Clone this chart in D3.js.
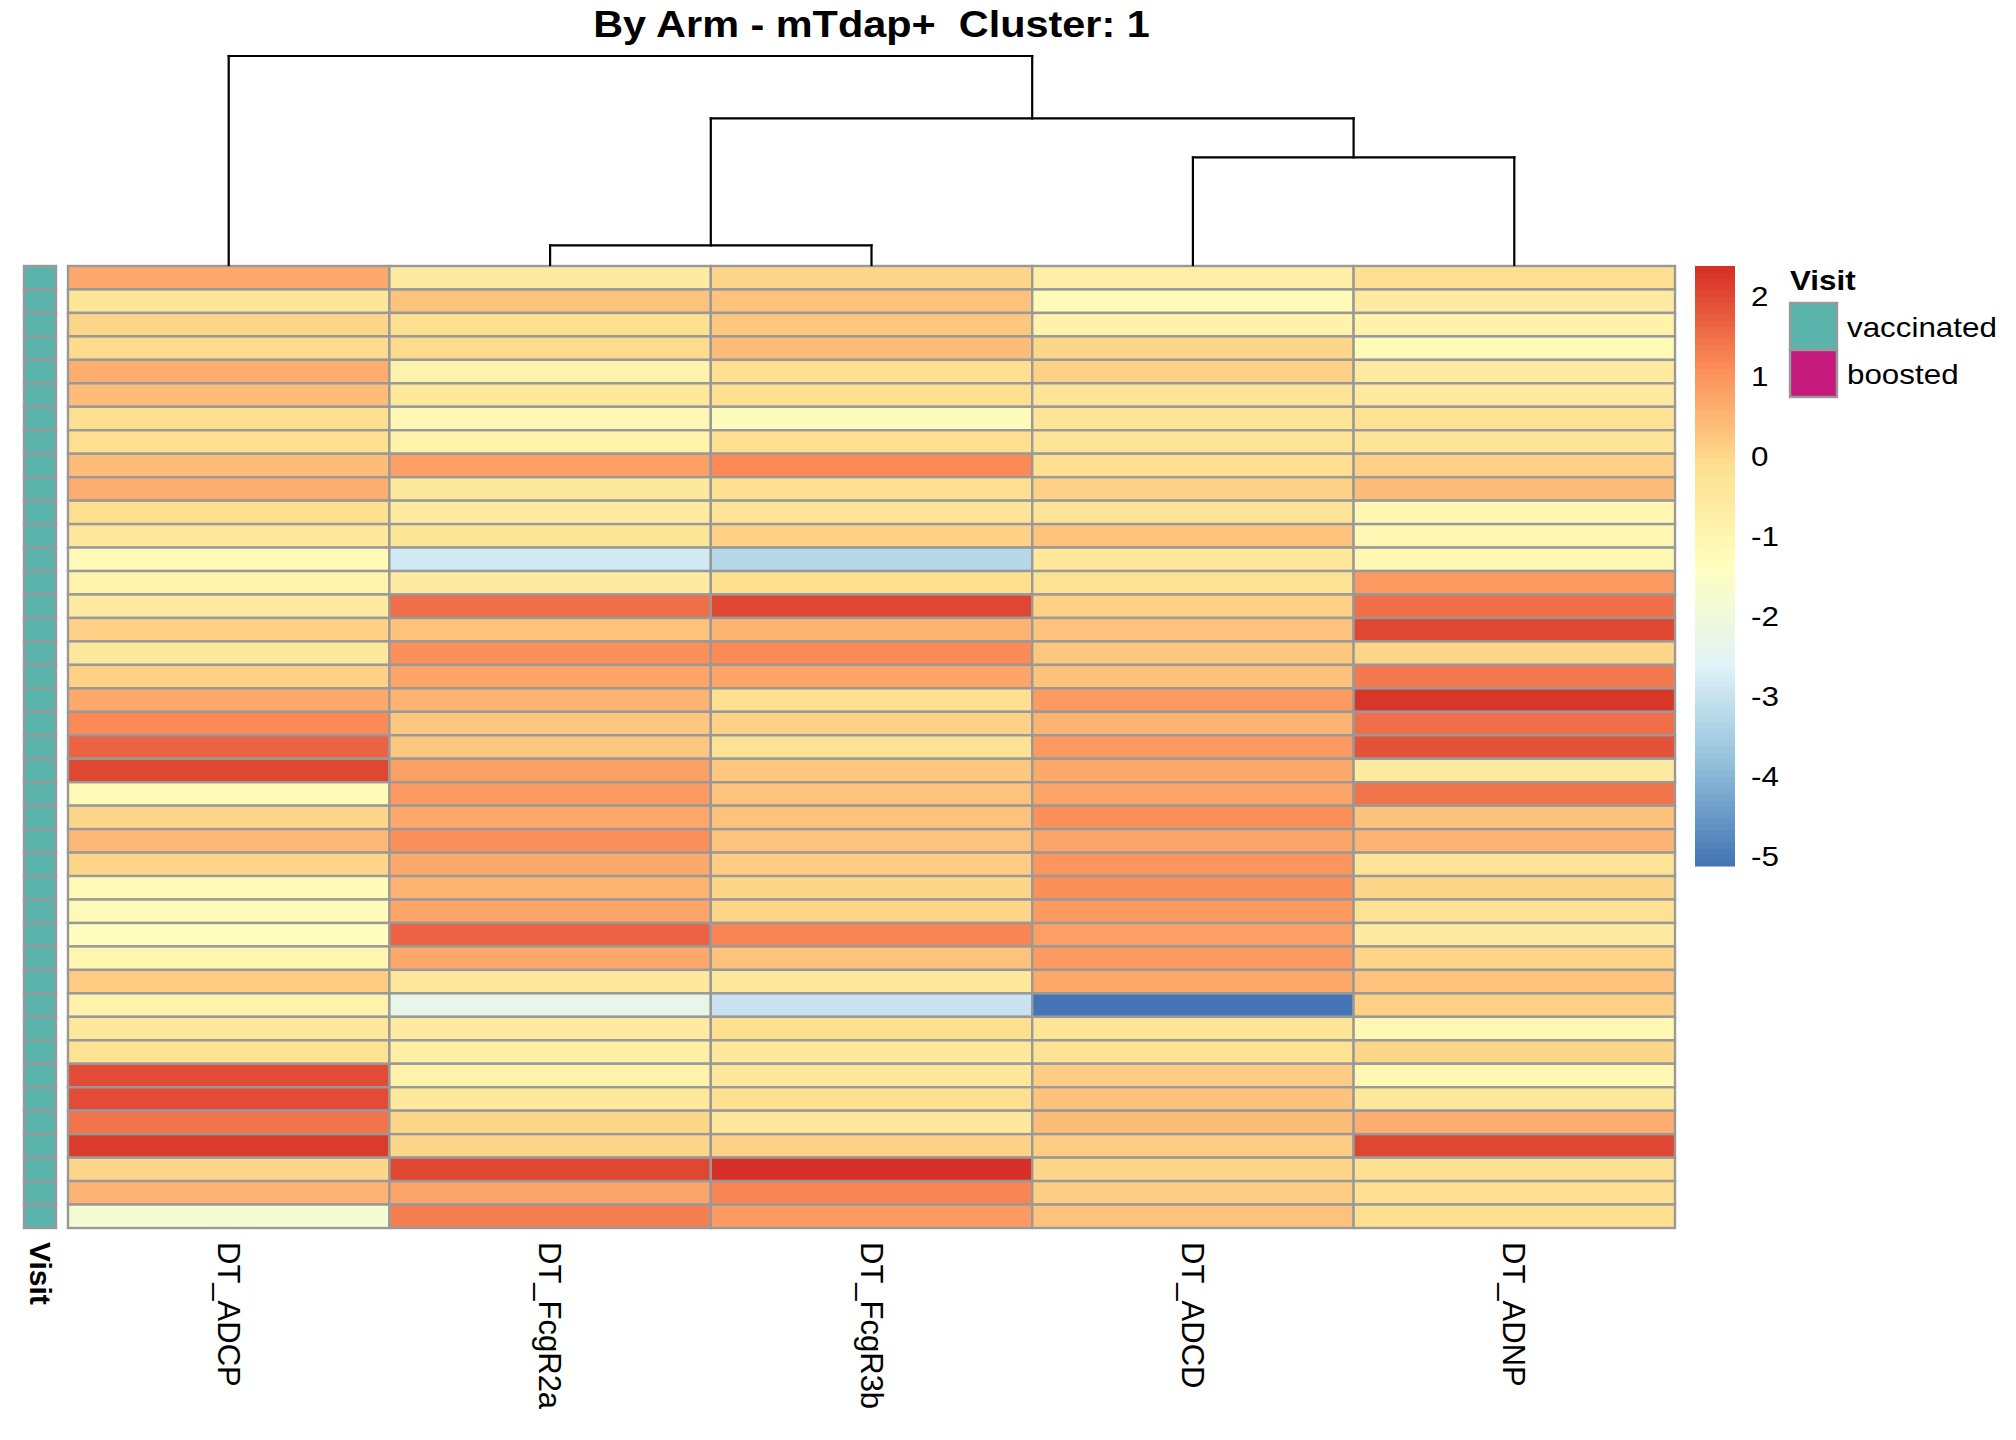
<!DOCTYPE html>
<html>
<head>
<meta charset="utf-8">
<script src="https://cdn.jsdelivr.net/npm/d3@7"></script>
<style>
  body { margin: 0; background: #fff; }
  text { font-family: "Liberation Sans", Arial, sans-serif; fill: #000; }
</style>
</head>
<body>
<div class="heatmap"></div>
<script>

// columns in dendrogram order
var columns = ["DT_ADCP", "DT_FcgR2a", "DT_FcgR3b", "DT_ADCD", "DT_ADNP"];

// one array per column, 41 samples top to bottom
var adcp = [0.70, -0.35, -0.02, -0.05, 0.60, 0.40, -0.10, -0.10, 0.40, 0.60,
            -0.10, -0.40, -1.15, -0.85, -0.55, 0.10, -0.45, 0.10, 0.72, 1.15,
            1.65, 2.02, -1.15, 0.00, 0.45, 0.00, -1.15, -1.15, -1.37, -0.95,
            0.20, -0.85, -0.45, -0.20, 2.00, 2.00, 1.45, 2.22, 0.00, 0.55, -1.80];
var fcgr2a = [-0.60, 0.35, -0.10, -0.05, -0.85, -0.40, -1.10, -0.90, 0.85, -0.45,
              -0.55, -0.35, -2.80, -0.55, 1.55, 0.30, 1.05, 0.80, 0.55, 0.22,
              0.22, 0.85, 0.92, 0.70, 1.03, 0.70, 0.55, 0.80, 1.68, 0.70,
              -0.40, -2.30, -0.55, -0.75, -0.85, -0.45, 0.00, 0.00, 2.02, 0.80, 1.30];
var fcgr3b = [0.00, 0.35, 0.25, 0.40, -0.10, -0.10, -1.25, -0.10, 1.13, -0.10,
              -0.25, 0.10, -3.30, -0.10, 2.05, 0.55, 1.12, 0.80, -0.10, 0.10,
              -0.20, 0.22, 0.28, 0.28, 0.35, 0.13, 0.00, 0.00, 1.20, 0.28,
              -0.40, -3.00, -0.15, -0.40, -0.40, -0.10, -0.40, 0.10, 2.38, 1.18, 0.95];
var adcd = [-0.75, -1.20, -0.90, 0.00, 0.10, -0.25, -0.25, -0.25, -0.15, 0.10,
            -0.30, 0.30, -0.45, -0.20, 0.10, 0.30, 0.22, 0.28, 0.95, 0.55,
            0.95, 0.68, 0.80, 1.03, 0.80, 0.97, 1.03, 0.92, 0.85, 0.95,
            0.70, -5.12, -0.35, -0.20, 0.20, 0.35, 0.42, 0.20, 0.00, 0.20, 0.35];
var adnp = [-0.10, -0.55, -0.85, -1.20, -0.60, -0.60, -0.20, -0.25, 0.10, 0.40,
            -1.00, -1.10, -1.10, 0.95, 1.55, 2.05, 0.00, 1.33, 2.30, 1.55,
            1.90, -0.55, 1.45, 0.35, 0.55, -0.25, 0.00, -0.20, -0.55, 0.00,
            0.35, 0.10, -1.10, 0.00, -1.00, -0.40, 0.63, 2.02, -0.12, -0.12, -0.12];

var visit = d3.range(41).map(() => "vaccinated");
var visitLevels = ["vaccinated", "boosted"];
var visitColors = ["#5ab4ac", "#c51b7d"];

// column clustering, hclust style: negative = leaf index (1-based), positive = earlier merge
var merges = [[-2, -3], [-4, -5], [1, 2], [-1, 3]];
var mergeHeights = [0.94, 5.14, 7.0, 9.98];

var legendTicks = [2, 1, 0, -1, -2, -3, -4, -5];
var title = "By Arm - mTdap+  Cluster: 1";

var anchors = ["#4575B4", "#91BFDB", "#E0F3F8", "#FFFFBF", "#FEE090", "#FC8D59", "#D73027"];

var width = 2016, height = 1440;
var hmLeft = 68, hmRight = 1675, hmTop = 266, hmBottom = 1228;
var sx = 1.12; // the reference text is drawn a bit wide

var series = [adcp, fcgr2a, fcgr3b, adcd, adnp];
var cells = [];
series.forEach((s, j) => s.forEach((v, i) => cells.push({row: i, col: columns[j], value: v})));

var all = cells.map(d => d.value);
var ext = d3.extent(all);
var palette = d3.quantize(d3.piecewise(d3.interpolateRgb, anchors), 100);
var color = d3.scaleQuantize().domain(ext).range(palette);

var x = d3.scaleBand().domain(columns).range([hmLeft, hmRight]);
var y = d3.scaleBand().domain(d3.range(visit.length)).range([hmTop, hmBottom]);

var svg = d3.select(".heatmap").append("svg")
    .attr("width", width)
    .attr("height", height)
    .attr("viewBox", [0, 0, width, height]);

// title
svg.append("text")
    .attr("transform", `translate(${(hmLeft + hmRight) / 2},37) scale(${sx},1)`)
    .attr("text-anchor", "middle")
    .attr("font-size", 37)
    .attr("font-weight", "bold")
    .style("white-space", "pre")
    .text(title);

// heatmap cells
svg.append("g").selectAll("rect")
    .data(cells)
    .join("rect")
    .attr("x", d => x(d.col))
    .attr("y", d => y(d.row))
    .attr("width", x.bandwidth())
    .attr("height", y.bandwidth())
    .attr("fill", d => color(d.value))
    .attr("stroke", "#999999")
    .attr("stroke-width", 2.4);

// annotation column
var visitColor = d3.scaleOrdinal(visitLevels, visitColors);
svg.append("g").selectAll("rect")
    .data(visit)
    .join("rect")
    .attr("x", 24)
    .attr("y", (d, i) => y(i))
    .attr("width", 32)
    .attr("height", y.bandwidth())
    .attr("fill", d => visitColor(d))
    .attr("stroke", "#999999")
    .attr("stroke-width", 2.4);

// column labels
svg.append("g").selectAll("text")
    .data(columns)
    .join("text")
    .attr("transform", d => `translate(${x(d) + x.bandwidth() / 2},1242) rotate(90)`)
    .attr("dy", "0.35em")
    .attr("font-size", 31)
    .text(d => d);

svg.append("text")
    .attr("transform", "translate(40,1242) rotate(90)")
    .attr("dy", "0.35em")
    .attr("font-size", 30)
    .attr("font-weight", "bold")
    .text("Visit");

// dendrogram
var h = d3.scaleLinear().domain([0, d3.max(mergeHeights)]).range([265, 56]);
var nodes = [];
var leafX = i => x(columns[i]) + x.bandwidth() / 2;
function pos(k) {
    return k < 0 ? {x: leafX(-k - 1), y: h(0)} : nodes[k - 1];
}
var segs = [];
merges.forEach((m, i) => {
    var a = pos(m[0]), b = pos(m[1]), hy = h(mergeHeights[i]);
    segs.push([a.x, a.y, a.x, hy], [b.x, b.y, b.x, hy], [a.x, hy, b.x, hy]);
    nodes.push({x: (a.x + b.x) / 2, y: hy});
});
svg.append("g").selectAll("line")
    .data(segs)
    .join("line")
    .attr("x1", d => d[0]).attr("y1", d => d[1])
    .attr("x2", d => d[2]).attr("y2", d => d[3])
    .attr("stroke", "#000")
    .attr("stroke-width", 2.2)
    .attr("stroke-linecap", "square");

// colour legend
var ly = d3.scaleLinear().domain(ext).range([866, 266]);
var step = (ext[1] - ext[0]) / palette.length;
svg.append("g").selectAll("rect")
    .data(palette)
    .join("rect")
    .attr("x", 1695)
    .attr("y", (d, i) => ly(ext[0] + (i + 1) * step))
    .attr("width", 40)
    .attr("height", (d, i) => ly(ext[0] + i * step) - ly(ext[0] + (i + 1) * step) + 0.5)
    .attr("fill", d => d);

svg.append("g").selectAll("text")
    .data(legendTicks)
    .join("text")
    .attr("transform", d => `translate(1751,${ly(d)}) scale(${sx},1)`)
    .attr("dy", "0.35em")
    .attr("font-size", 28)
    .text(d => d3.format("d")(d).replace("−", "-"));

// annotation legend
svg.append("text")
    .attr("transform", `translate(1790,290) scale(${sx},1)`)
    .attr("font-size", 28)
    .attr("font-weight", "bold")
    .text("Visit");

var lg = svg.append("g").selectAll("g")
    .data(visitLevels)
    .join("g")
    .attr("transform", (d, i) => `translate(1790,${303 + i * 47})`);
lg.append("rect")
    .attr("width", 47)
    .attr("height", 47)
    .attr("fill", d => visitColor(d))
    .attr("stroke", "#999999")
    .attr("stroke-width", 2.4);
lg.append("text")
    .attr("transform", `translate(57,24) scale(${sx},1)`)
    .attr("dy", "0.35em")
    .attr("font-size", 28)
    .text(d => d);

</script>
</body>
</html>
